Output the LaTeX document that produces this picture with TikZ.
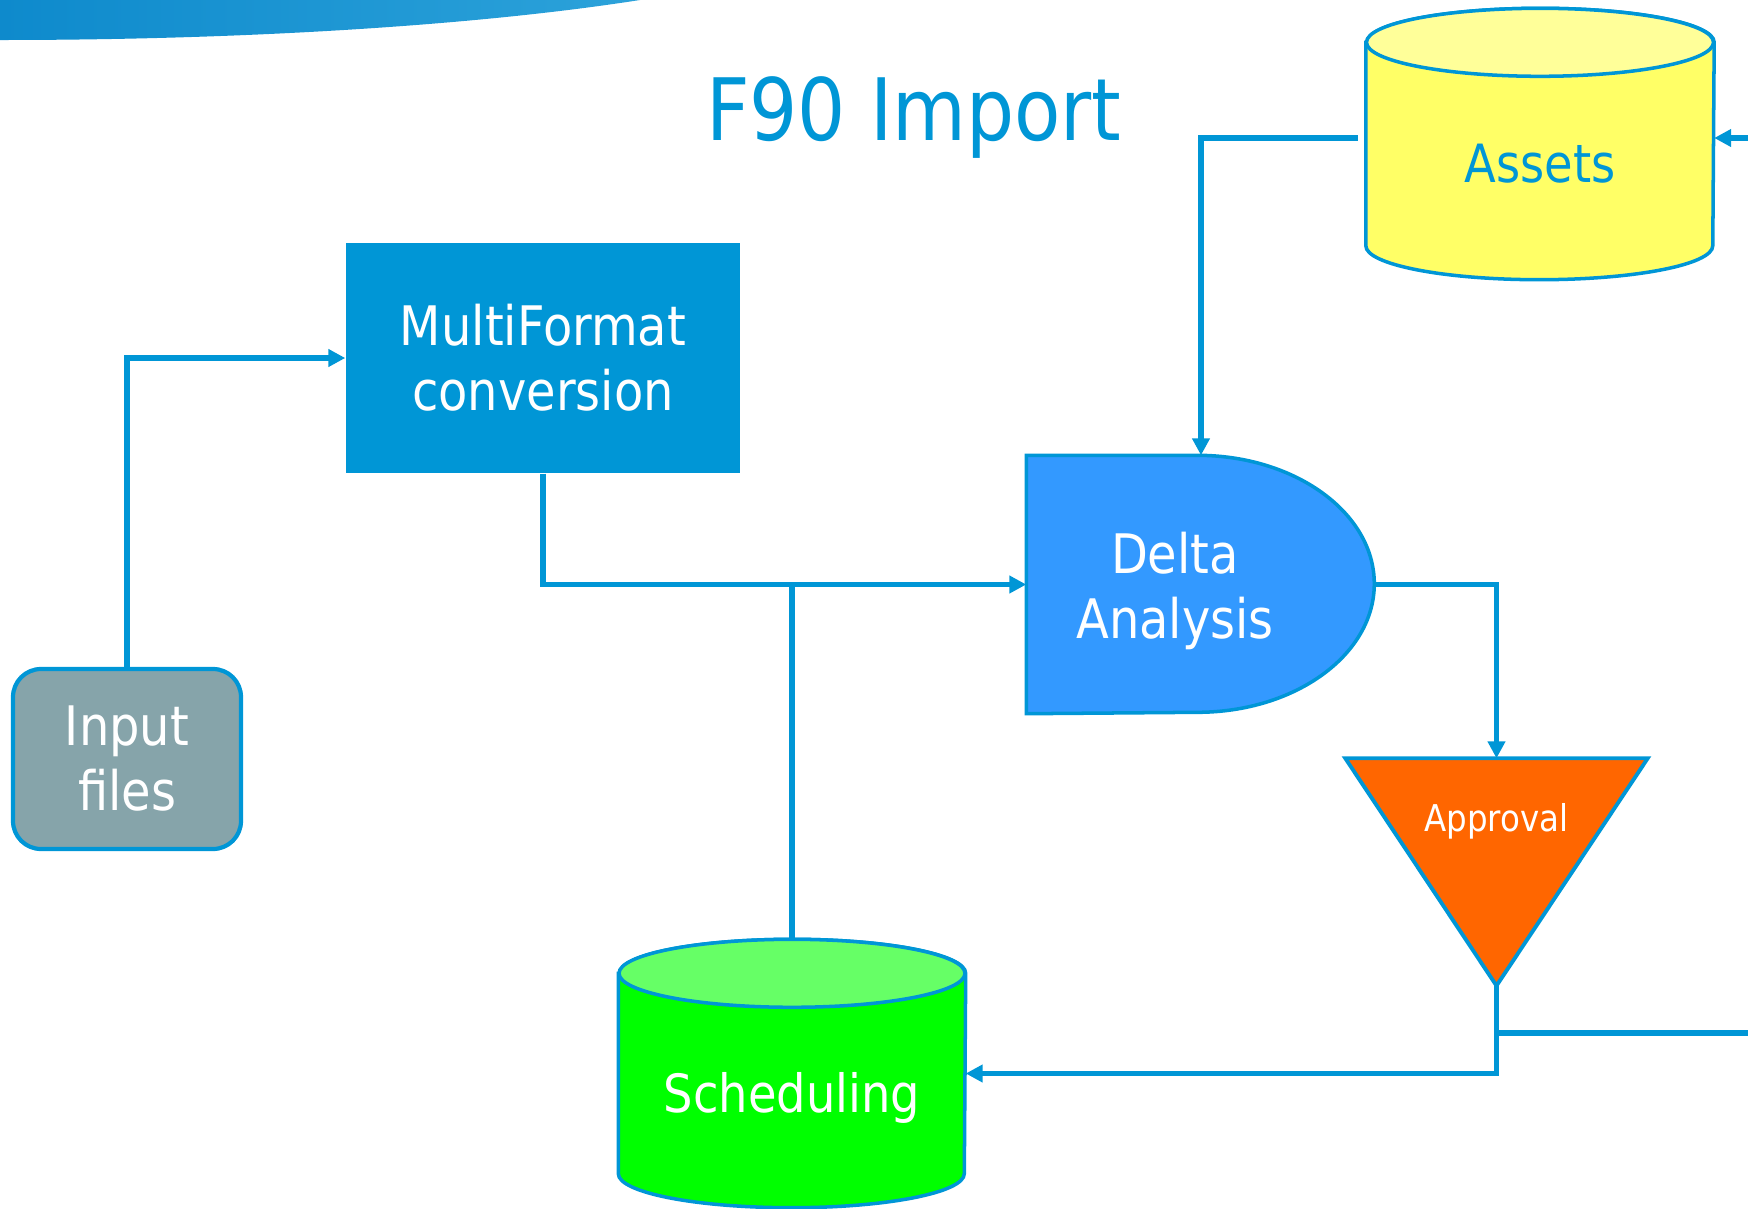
\documentclass[tikz,border=0pt]{standalone}
\usepackage{fontspec}
\setmainfont{DejaVu Sans}[FakeStretch=0.88]
\usetikzlibrary{arrows.meta}

\definecolor{lineblue}{RGB}{0,150,214}
\definecolor{inputgrey}{RGB}{134,164,170}
\definecolor{deltablue}{RGB}{51,153,255}
\definecolor{approvalorange}{RGB}{255,102,0}
\definecolor{assetsbody}{RGB}{255,255,102}
\definecolor{assetstop}{RGB}{255,255,153}
\definecolor{schedbody}{RGB}{0,255,0}
\definecolor{schedtop}{RGB}{102,255,102}

% database drum around a node: name, body colour, top colour, x radius
\newcommand{\dbdrum}[4]{%
	\fill[#2, draw=lineblue, line width=1pt] ([yshift=-3.4mm]#1.north west) -- ([yshift=3.4mm]#1.south west)
		arc[start angle=180, end angle=360, x radius=#4, y radius=0.34] -- ([yshift=-3.4mm]#1.north east)
		arc[start angle=0, end angle=180, x radius=#4, y radius=0.34] -- cycle;
	\fill[#3, draw=lineblue, line width=1pt] ([yshift=-3.4mm]#1.north) ellipse[x radius=#4, y radius=0.34];
}

\tikzset{
	flow/.style={draw=lineblue, line width=1.5pt, -{Triangle[length=1.7mm,width=1.7mm]}},
	plain/.style={draw=lineblue, line width=1.5pt},
	boxtext/.style={text=white, align=center, font=\fontsize{15.5}{18.5}\selectfont},
}

\begin{document}
\begin{tikzpicture}
	\useasboundingbox (0,0) rectangle (17.48,-12.09);
	\shade[left color={rgb,255:red,14;green,138;blue,204}, right color={rgb,255:red,44;green,162;blue,218}]
		(0,0) -- (0,-0.40) .. controls (2.5,-0.40) and (4.8,-0.25) .. (6.4,0) -- cycle; %banner

	\node[text=lineblue, font=\fontsize{24.5}{29}\selectfont] at (9.14,-1.17) (title) {F90 Import};

	\node[boxtext, fill=inputgrey, draw=lineblue, line width=1.2pt, rounded corners=0.28cm, minimum width=2.28cm, minimum height=1.8cm] at (1.27,-7.59) (input) {Input\\files};
	\node[boxtext, fill=lineblue, minimum width=3.94cm, minimum height=2.3cm] at (5.43,-3.58) (conv) {MultiFormat\\conversion};

	\node[minimum width=3.48cm, minimum height=2.57cm] at (12.01,-5.845) (delta) {};
	\fill[deltablue, draw=lineblue, line width=1pt] (delta.south west) -- (delta.north west) -- ++(1.71,0)
		arc[start angle=90, end angle=-90, x radius=1.77, y radius=1.285] -- cycle; %delta shape
	\node[boxtext] at ([xshift=-2.6mm,yshift=-0.6mm]delta.center) (deltatext) {Delta\\Analysis};

	\node[minimum width=3.01cm, minimum height=2.26cm] at (14.965,-8.72) (approval) {};
	\fill[approvalorange, draw=lineblue, line width=1.1pt] (approval.north west) -- (approval.north east) -- (approval.south) -- cycle; %approval shape
	\node[text=white, font=\fontsize{10.5}{13}\selectfont] at ([yshift=-6.3mm]approval.north) (approvaltext) {Approval};

	\node[minimum width=3.47cm, minimum height=2.7cm] at (15.40,-1.44) (assets) {};
	\dbdrum{assets}{assetsbody}{assetstop}{1.735}
	\node[text=lineblue, font=\fontsize{15}{18}\selectfont] at ([yshift=-2mm]assets.center) (assetstext) {Assets};

	\node[minimum width=3.46cm, minimum height=2.67cm] at (7.92,-10.735) (sched) {};
	\dbdrum{sched}{schedbody}{schedtop}{1.73}
	\node[boxtext, font=\fontsize{15}{18}\selectfont] at ([yshift=-2.4mm]sched.center) (schedtext) {Scheduling};

	\coordinate (rin) at (17.48,-1.38);
	\coordinate (rout) at (17.48,-10.33);

	\draw[flow] (input.north) |- (conv.west);
	\draw[flow] (conv.south) |- (delta.west);
	\draw[plain] (sched.north) -- (sched.north |- delta.west);
	\draw[flow] ([xshift=-0.08cm,yshift=0.06cm]assets.west) -| (delta.north);
	\draw[flow] (rin) -- (rin -| assets.east);
	\draw[flow] (delta.east) -| (approval.north);
	\draw[flow] (approval.south) |- (sched.east);
	\draw[plain] (approval.south |- rout) -- (rout);
\end{tikzpicture}
\end{document}
